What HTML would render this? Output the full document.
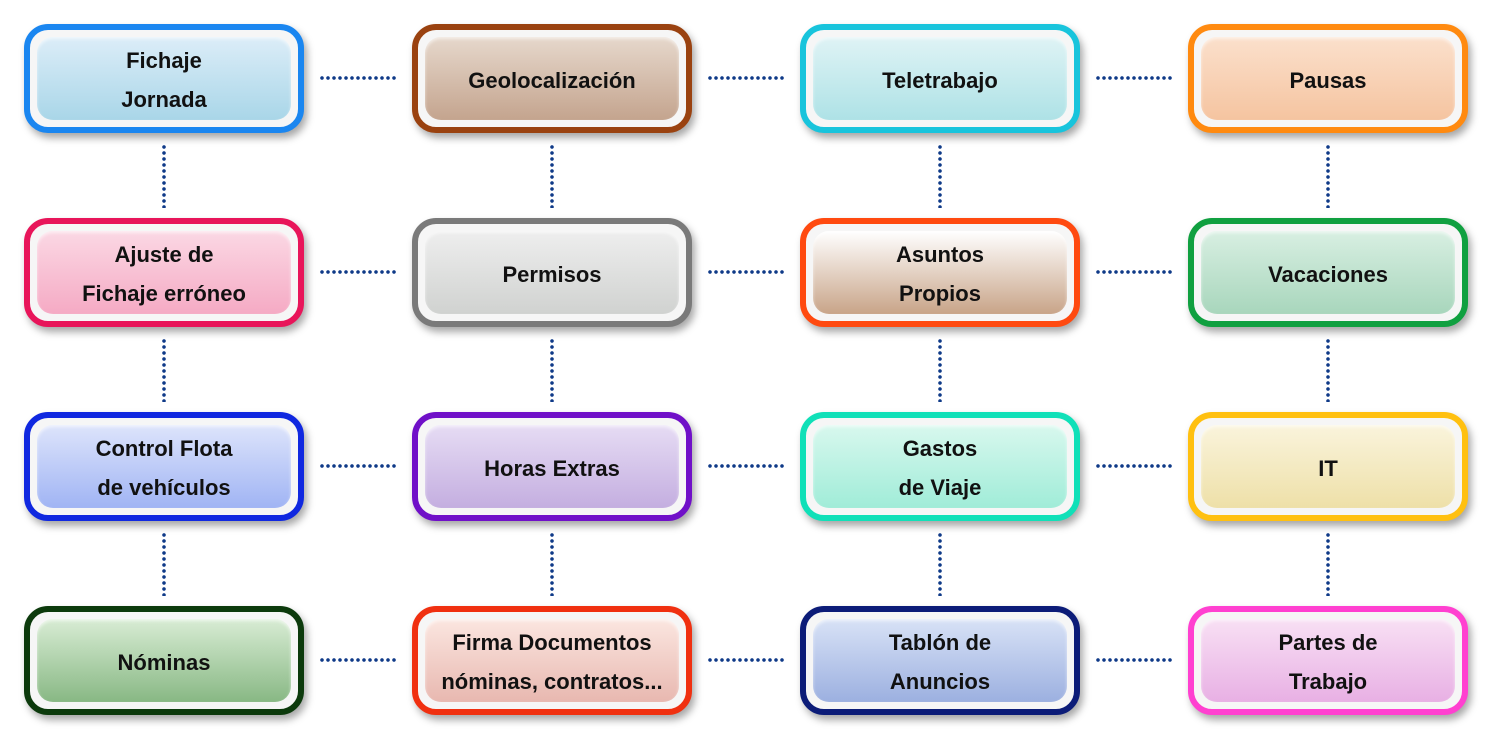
<!DOCTYPE html>
<html><head><meta charset="utf-8"><style>
html,body{margin:0;padding:0;background:#fff;}
body{width:1500px;height:749px;position:relative;overflow:hidden;font-family:"Liberation Sans",sans-serif;}
.b{position:absolute;width:268px;height:97px;border:6px solid;border-radius:24px;background:#f6f6f6;box-shadow:3px 5px 8px rgba(0,0,0,0.35);}
.i{position:absolute;left:7px;top:7px;right:7px;bottom:7px;padding-top:3px;box-sizing:border-box;border-radius:16px;display:flex;align-items:center;justify-content:center;text-align:center;font-weight:bold;font-size:22px;line-height:39px;color:#111;box-shadow:inset 0 2px 3px rgba(255,255,255,0.6);}
.h{position:absolute;height:4px;width:78px;background:radial-gradient(circle,#0f3a88 1.6px,transparent 2px) 0 0/6px 4px repeat-x;}
.v{position:absolute;width:4px;height:64px;background:radial-gradient(circle,#0f3a88 1.6px,transparent 2px) 0 0/4px 6px repeat-y;}
</style></head><body>
<div class="b" style="left:24px;top:24px;border-color:#1a86f0"><div class="i" style="background:linear-gradient(#dcedf8,#a9d6e8)">Fichaje<br>Jornada</div></div>
<div class="b" style="left:412px;top:24px;border-color:#9a4210"><div class="i" style="background:linear-gradient(#e6d8cc,#c4a48e)">Geolocalización</div></div>
<div class="b" style="left:800px;top:24px;border-color:#18c4dc"><div class="i" style="background:linear-gradient(#dff3f5,#aee2e6)">Teletrabajo</div></div>
<div class="b" style="left:1188px;top:24px;border-color:#ff8a10"><div class="i" style="background:linear-gradient(#fbe0cc,#f5c4a0)">Pausas</div></div>

<div class="b" style="left:24px;top:218px;border-color:#e8155a"><div class="i" style="background:linear-gradient(#fbd8e4,#f5aac4)">Ajuste de<br>Fichaje erróneo</div></div>
<div class="b" style="left:412px;top:218px;border-color:#7a7a7a"><div class="i" style="background:linear-gradient(#eeeeee,#d0d2d0)">Permisos</div></div>
<div class="b" style="left:800px;top:218px;border-color:#ff4a10"><div class="i" style="background:linear-gradient(#ffffff,#c8a488)">Asuntos<br>Propios</div></div>
<div class="b" style="left:1188px;top:218px;border-color:#10a040"><div class="i" style="background:linear-gradient(#d8efe2,#a8d6bc)">Vacaciones</div></div>

<div class="b" style="left:24px;top:412px;border-color:#1028e0"><div class="i" style="background:linear-gradient(#dde4fb,#a0b4f4)">Control Flota<br>de vehículos</div></div>
<div class="b" style="left:412px;top:412px;border-color:#7010c8"><div class="i" style="background:linear-gradient(#e6dcf4,#c4aee0)">Horas Extras</div></div>
<div class="b" style="left:800px;top:412px;border-color:#10e0b8"><div class="i" style="background:linear-gradient(#d8f8ee,#a0ecd8)">Gastos<br>de Viaje</div></div>
<div class="b" style="left:1188px;top:412px;border-color:#ffc010"><div class="i" style="background:linear-gradient(#faf4dc,#eee0a8)">IT</div></div>

<div class="b" style="left:24px;top:606px;border-color:#0c3a0c"><div class="i" style="background:linear-gradient(#d8ecd4,#88b884)">Nóminas</div></div>
<div class="b" style="left:412px;top:606px;border-color:#f03010"><div class="i" style="background:linear-gradient(#fbe6e0,#e8b8b0)">Firma Documentos<br>nóminas, contratos...</div></div>
<div class="b" style="left:800px;top:606px;border-color:#0c1c78"><div class="i" style="background:linear-gradient(#d8e2f6,#9cb0e0)">Tablón de<br>Anuncios</div></div>
<div class="b" style="left:1188px;top:606px;border-color:#ff40d0"><div class="i" style="background:linear-gradient(#f8e0f4,#e8b0e4)">Partes de<br>Trabajo</div></div>

<div class="h" style="left:319px;top:76px"></div><div class="h" style="left:707px;top:76px"></div><div class="h" style="left:1095px;top:76px"></div>
<div class="h" style="left:319px;top:270px"></div><div class="h" style="left:707px;top:270px"></div><div class="h" style="left:1095px;top:270px"></div>
<div class="h" style="left:319px;top:464px"></div><div class="h" style="left:707px;top:464px"></div><div class="h" style="left:1095px;top:464px"></div>
<div class="h" style="left:319px;top:658px"></div><div class="h" style="left:707px;top:658px"></div><div class="h" style="left:1095px;top:658px"></div>

<div class="v" style="left:162px;top:144px"></div><div class="v" style="left:550px;top:144px"></div><div class="v" style="left:938px;top:144px"></div><div class="v" style="left:1326px;top:144px"></div>
<div class="v" style="left:162px;top:338px"></div><div class="v" style="left:550px;top:338px"></div><div class="v" style="left:938px;top:338px"></div><div class="v" style="left:1326px;top:338px"></div>
<div class="v" style="left:162px;top:532px"></div><div class="v" style="left:550px;top:532px"></div><div class="v" style="left:938px;top:532px"></div><div class="v" style="left:1326px;top:532px"></div>
</body></html>
